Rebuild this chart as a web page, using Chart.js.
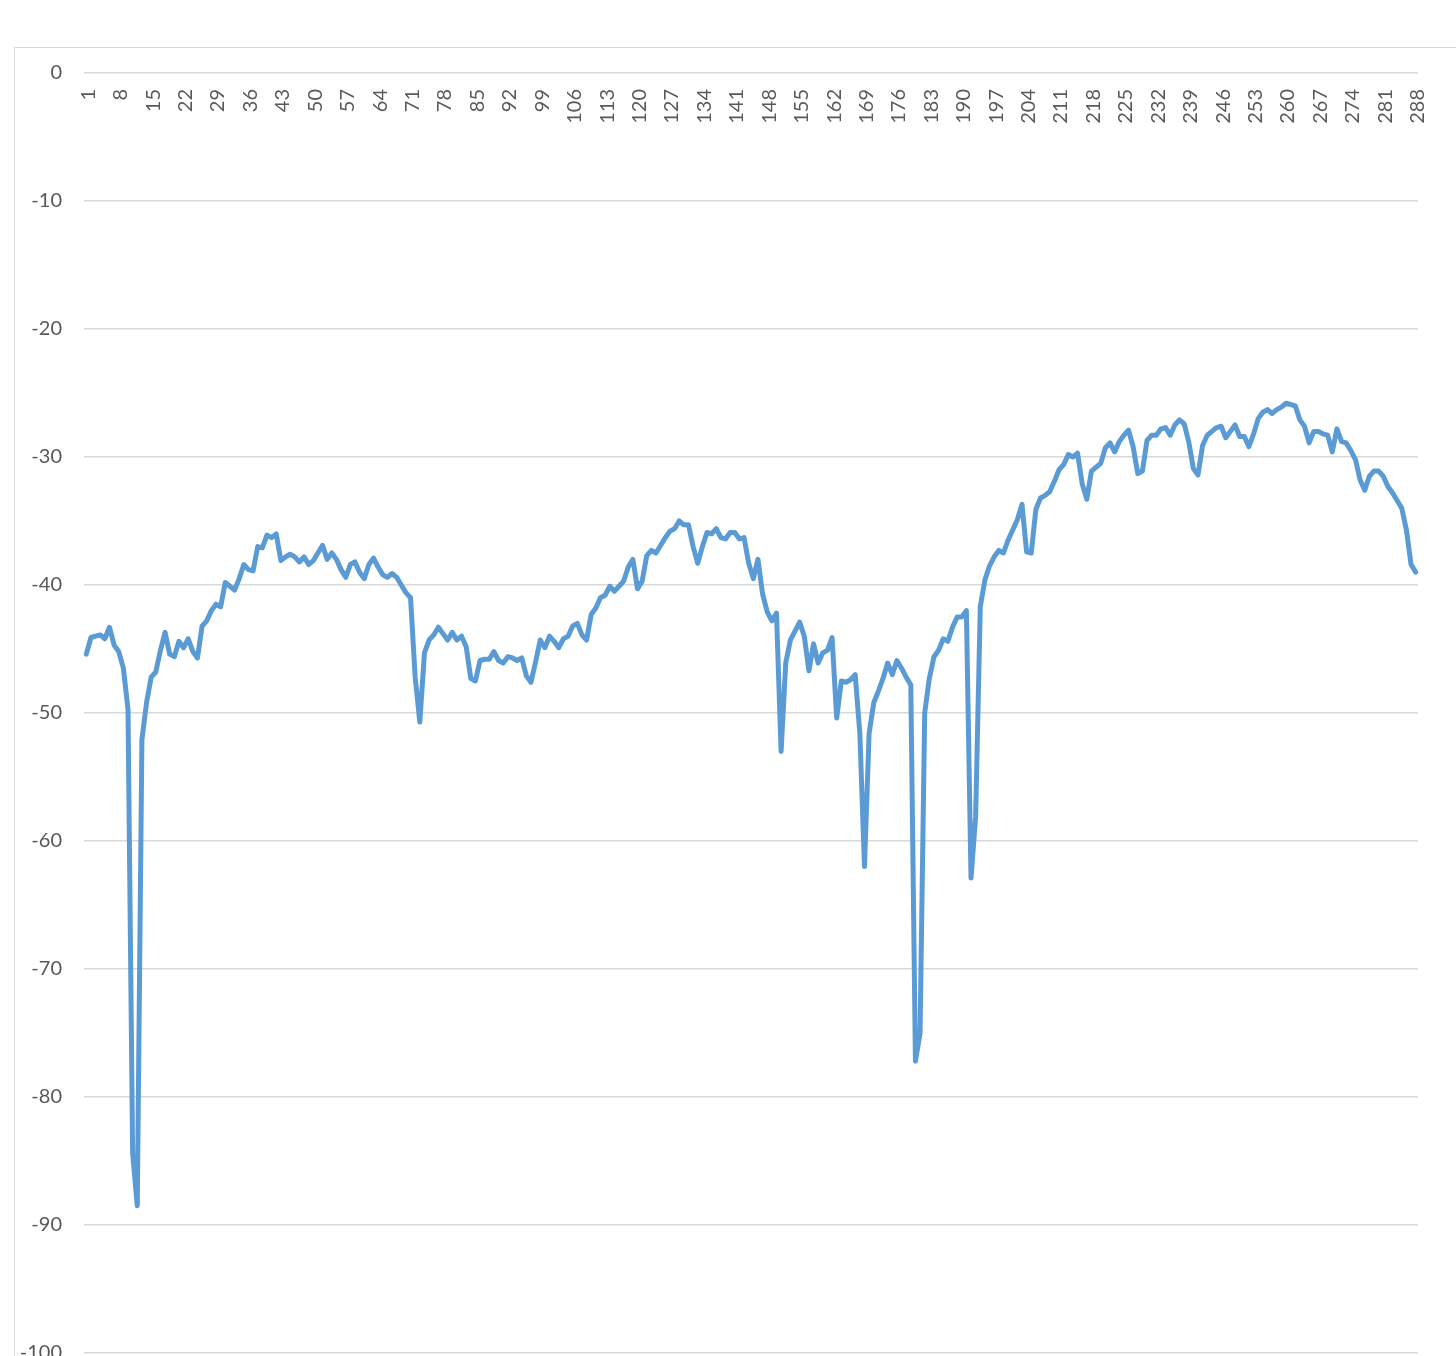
<!DOCTYPE html>
<html>
<head>
<meta charset="utf-8">
<script src="https://cdn.jsdelivr.net/npm/chart.js@4.4.0/dist/chart.umd.min.js"></script>
<style>
  html, body { margin: 0; padding: 0; background: #fff; }
  body { width: 1456px; height: 1356px; position: relative; overflow: hidden; }
  #frame { position: absolute; left: 14px; top: 47px; width: 1500px; height: 1400px; border: 1.5px solid #d9d9d9; }
  #lossChart { position: absolute; left: 0; top: 0; }
</style>
</head>
<body>
<div id="frame"></div>
<canvas id="lossChart" width="1456" height="1356"></canvas>
<script>
// values, one per sample (1..288)
const values001 = [-45.4, -44.1, -44.0, -43.9, -44.2, -43.3, -44.7, -45.2, -46.5, -49.7,
  -84.4, -88.5, -52.1, -49.2, -47.2, -46.8, -45.1, -43.7, -45.4, -45.6,
  -44.4, -44.9, -44.2, -45.2, -45.7, -43.2, -42.8, -42.0, -41.5, -41.7,
  -39.8, -40.1, -40.4, -39.5, -38.4, -38.8, -38.9, -37.0, -37.1, -36.1,
  -36.3, -36.0, -38.1, -37.8, -37.6, -37.8, -38.2, -37.8];
const values049 = [-38.4, -38.1, -37.5, -36.9, -38.0, -37.5, -38.0, -38.8, -39.4, -38.4,
  -38.2, -39.0, -39.5, -38.4, -37.9, -38.6, -39.2, -39.4, -39.1, -39.4,
  -40.0, -40.6, -41.0, -47.2, -50.7, -45.3, -44.3, -43.9, -43.3, -43.8,
  -44.3, -43.7, -44.3, -44.0, -44.8, -47.3, -47.5, -45.9, -45.8, -45.8,
  -45.2, -45.9, -46.1, -45.6, -45.7, -45.9, -45.7, -47.1];
const values097 = [-47.6, -46.0, -44.3, -44.9, -44.0, -44.4, -44.9, -44.2, -44.0, -43.2,
  -43.0, -43.9, -44.3, -42.3, -41.8, -41.0, -40.8, -40.1, -40.5, -40.1,
  -39.7, -38.6, -38.0, -40.3, -39.7, -37.7, -37.3, -37.5, -36.9, -36.3,
  -35.8, -35.6, -35.0, -35.3, -35.3, -37.0, -38.3, -37.0, -35.9, -36.0,
  -35.6, -36.3, -36.4, -35.9, -35.9, -36.4, -36.3, -38.3];
const values145 = [-39.5, -38.0, -40.7, -42.1, -42.8, -42.2, -53.0, -46.1, -44.3, -43.6,
  -42.9, -44.0, -46.7, -44.6, -46.1, -45.3, -45.1, -44.1, -50.4, -47.5,
  -47.6, -47.4, -47.0, -51.6, -62.0, -51.6, -49.2, -48.3, -47.3, -46.1,
  -47.0, -45.9, -46.5, -47.2, -47.8, -77.2, -75.0, -50.0, -47.3, -45.6,
  -45.1, -44.2, -44.4, -43.3, -42.5, -42.5, -42.0, -62.9];
const values193 = [-58.1, -41.7, -39.6, -38.5, -37.8, -37.3, -37.5, -36.5, -35.7, -34.9,
  -33.7, -37.4, -37.5, -34.1, -33.2, -33.0, -32.7, -31.9, -31.0, -30.6,
  -29.8, -30.0, -29.7, -32.1, -33.3, -31.1, -30.8, -30.5, -29.3, -28.9,
  -29.6, -28.8, -28.3, -27.9, -29.2, -31.3, -31.1, -28.7, -28.3, -28.3,
  -27.8, -27.7, -28.3, -27.5, -27.1, -27.4, -28.8, -30.9];
const values241 = [-31.4, -29.1, -28.3, -28.0, -27.7, -27.6, -28.5, -28.0, -27.5, -28.4,
  -28.4, -29.2, -28.2, -27.0, -26.5, -26.3, -26.6, -26.3, -26.1, -25.8,
  -25.9, -26.0, -27.1, -27.6, -28.9, -28.0, -28.0, -28.2, -28.3, -29.6,
  -27.8, -28.8, -28.9, -29.5, -30.2, -31.8, -32.6, -31.5, -31.1, -31.1,
  -31.5, -32.3, -32.8, -33.4, -34.0, -35.7, -38.4, -39.0];

const signalValues = [].concat(values001, values049, values097, values145, values193, values241);
const categories = signalValues.map((_, i) => String(i + 1));
const labelEvery = 7;
const yMin = -100;
const yMax = 0;
const yStep = 10;

const fontFamily = 'Lato, "Open Sans", sans-serif';
const textColor = '#595959';
const gridColor = '#d9d9d9';

const ctx = document.getElementById('lossChart').getContext('2d');
const lossChart = new Chart(ctx, {
  type: 'line',
  data: {
    labels: categories,
    datasets: [
      {
        data: signalValues,
        borderColor: '#5b9bd5',
        borderWidth: 5,
        borderJoinStyle: 'round',
        borderCapStyle: 'round',
        pointRadius: 0,
        tension: 0,
        fill: false,
      },
    ],
  },
  options: {
    responsive: false,
    animation: false,
    layout: { padding: { left: 0, top: 73, right: 38, bottom: 3 } },
    plugins: {
      legend: { display: false },
      tooltip: { enabled: false },
    },
    scales: {
      x: {
        type: 'category',
        position: { y: 0 },
        offset: true,
        grid: { display: false, drawTicks: false },
        border: { display: false },
        ticks: {
          autoSkip: false,
          minRotation: 90,
          maxRotation: 90,
          padding: 16,
          labelOffset: 2,
          color: textColor,
          font: { family: fontFamily, size: 20 },
          callback: (value, index) => (index % labelEvery === 0 ? categories[index] : null),
        },
        afterFit: (scale) => {
          scale.height = 0;
          scale.paddingLeft = 0;
          scale.paddingRight = 0;
        },
      },
      y: {
        min: yMin,
        max: yMax,
        ticks: {
          stepSize: yStep,
          padding: 22,
          color: textColor,
          font: { family: fontFamily, size: 20 },
        },
        grid: { color: gridColor, lineWidth: 1.5, drawTicks: false },
        border: { display: false },
        afterFit: (scale) => {
          scale.width = 84;
          scale.paddingTop = 0;
          scale.paddingBottom = 0;
        },
      },
    },
  },
});
</script>
</body>
</html>
